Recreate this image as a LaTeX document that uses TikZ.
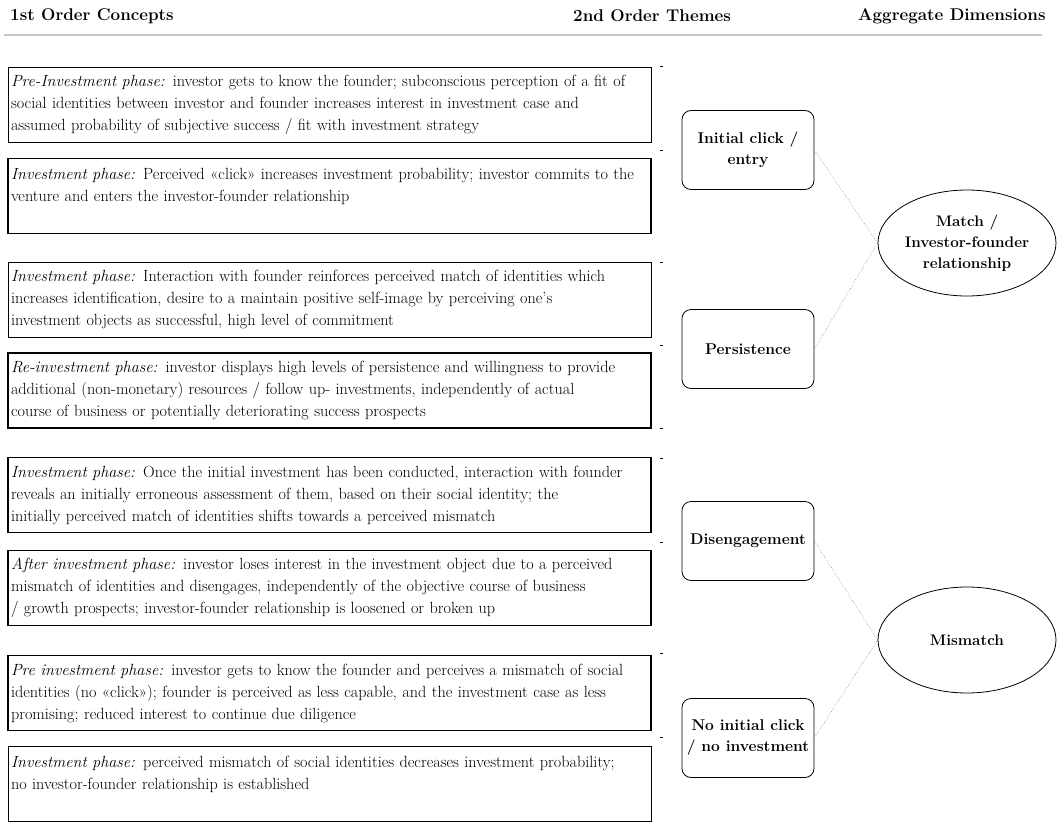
\documentclass[tikz,border=0pt]{standalone}
\usepackage{tikz}
\usetikzlibrary{positioning,shapes.geometric}

\begin{document}
\begin{tikzpicture}[x=1pt, y=-1pt,
    header/.style={font=\fontsize{17}{20}\selectfont\bfseries, anchor=west, inner sep=0pt},
    concept/.style={draw, line width=0.7pt, minimum width=643pt, minimum height=75pt,
        text width=637pt, inner xsep=3pt, align=left, font=\fontsize{16.2}{22}\selectfont},
    theme/.style={draw, rounded corners=9pt, line width=0.8pt, minimum width=132pt,
        minimum height=79pt, inner xsep=1pt, align=center, font=\fontsize{15.6}{21}\selectfont\bfseries},
    dimension/.style={draw, ellipse, line width=0.8pt, minimum width=178pt, minimum height=106pt,
        inner sep=0pt, align=center, font=\fontsize{15.3}{21}\selectfont\bfseries},
    link/.style={dotted, black!55, line width=0.6pt}]
    \useasboundingbox (0,0) rectangle (1058,822);

    % column headings
    \node[header] (h1) at (10,16) {1st Order Concepts};
    \node[header] (h2) at (573,16) {2nd Order Themes};
    \node[header] (h3) at (858,16) {Aggregate Dimensions};
    \draw[gray!45, line width=1.6pt] (4,35) -- (1042,35);

    % 1st order concepts
    \node[concept] (c1) at (329.5,104.5) {\textit{Pre-Investment phase:} investor gets to know the founder; subconscious perception of a fit of\\ social identities between investor and founder increases interest in investment case and\\ assumed probability of subjective success / fit with investment strategy};
    \node[concept, line width=1.1pt] (c2) at (329.5,196) {\textit{Investment phase:} Perceived «click» increases investment probability; investor commits to the\\ venture and enters the investor-founder relationship\\ \mbox{}};
    \node[concept] (c3) at (329.5,299.5) {\textit{Investment phase:} Interaction with founder reinforces perceived match of identities which\\ increases identification, desire to a maintain positive self-image by perceiving one’s\\ investment objects as successful, high level of commitment};
    \node[concept, line width=1.1pt] (c4) at (329.5,390.5) {\textit{Re-investment phase:} investor displays high levels of persistence and willingness to provide\\ additional (non-monetary) resources / follow up- investments, independently of actual\\ course of business or potentially deteriorating success prospects};
    \node[concept, line width=1.1pt] (c5) at (329.5,495) {\textit{Investment phase:} Once the initial investment has been conducted, interaction with founder\\ reveals an initially erroneous assessment of them, based on their social identity; the\\ initially perceived match of identities shifts towards a perceived mismatch};
    \node[concept, line width=1.1pt] (c6) at (329.5,588) {\textit{After investment phase:} investor loses interest in the investment object due to a perceived\\ mismatch of identities and disengages, independently of the objective course of business\\ / growth prospects; investor-founder relationship is loosened or broken up};
    \node[concept, line width=1.1pt] (c7) at (329.5,693) {\textit{Pre investment phase:} investor gets to know the founder and perceives a mismatch of social\\ identities (no «click»); founder is perceived as less capable, and the investment case as less\\ promising; reduced interest to continue due diligence};
    \node[concept] (c8) at (329.5,784) {\textit{Investment phase:} perceived mismatch of social identities decreases investment probability;\\ no investor-founder relationship is established\\ \mbox{}};

    % small marks beside the boxes
    \foreach \y in {66,150,262,345,428,458,542,653,737}
        \draw[line width=0.5pt] (660,\y) -- (663,\y);

    % 2nd order themes
    \node[theme] (click) at (748,150) {Initial click /\\ entry};
    \node[theme] (persist) at (748,349) {Persistence};
    \node[theme] (diseng) at (748,541) {Disengagement};
    \node[theme] (noclick) at (748,738) {No initial click\\ / no investment};

    % aggregate dimensions
    \node[dimension] (match) at (967,243) {Match /\\ Investor-founder\\ relationship};
    \node[dimension] (mismatch) at (967,640) {Mismatch};

    \draw[link] (click.east) -- (match.west);
    \draw[link] (persist.east) -- (match.west);
    \draw[link] (diseng.east) -- (mismatch.west);
    \draw[link] (noclick.east) -- (mismatch.west);
\end{tikzpicture}
\end{document}
